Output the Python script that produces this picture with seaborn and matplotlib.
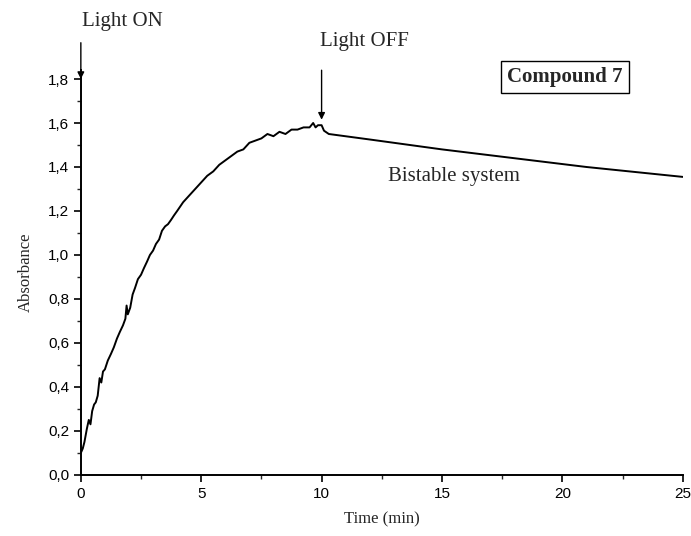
import numpy as np
import pandas as pd
import matplotlib
matplotlib.use("Agg")
import matplotlib.pyplot as plt
from matplotlib.ticker import MultipleLocator
import seaborn as sns

# irradiation phase (light on)
time_on = [0.0, 0.08, 0.15, 0.25, 0.33, 0.4, 0.47, 0.55, 0.62, 0.7, 0.78, 0.85, 0.92,
           1.0, 1.12, 1.25, 1.37, 1.5, 1.62, 1.75, 1.85, 1.9, 1.95, 2.05, 2.15, 2.25,
           2.37, 2.5, 2.62, 2.75, 2.87, 3.0, 3.12, 3.25, 3.37, 3.5, 3.62, 3.75, 3.87,
           4.0, 4.25, 4.5, 4.75, 5.0, 5.25, 5.5, 5.75, 6.0, 6.25, 6.5, 6.75, 7.0,
           7.25, 7.5, 7.75, 8.0, 8.25, 8.5, 8.75, 9.0, 9.25, 9.5, 9.65, 9.75, 9.85, 10.0]
abs_on = [0.10, 0.12, 0.15, 0.21, 0.25, 0.23, 0.29, 0.32, 0.33, 0.36, 0.44, 0.42, 0.47,
          0.48, 0.52, 0.55, 0.58, 0.62, 0.65, 0.68, 0.71, 0.77, 0.73, 0.76, 0.82, 0.85,
          0.89, 0.91, 0.94, 0.97, 1.00, 1.02, 1.05, 1.07, 1.11, 1.13, 1.14, 1.16, 1.18,
          1.20, 1.24, 1.27, 1.30, 1.33, 1.36, 1.38, 1.41, 1.43, 1.45, 1.47, 1.48, 1.51,
          1.52, 1.53, 1.55, 1.54, 1.56, 1.55, 1.57, 1.57, 1.58, 1.58, 1.60, 1.58, 1.59, 1.59]

# thermal relaxation phase (light off)
time_off = [10.0, 10.1, 10.3, 12.0, 15.0, 18.0, 21.0, 25.0]
abs_off = [1.59, 1.565, 1.55, 1.525, 1.48, 1.44, 1.40, 1.355]

x_ticks = [0, 5, 10, 15, 20, 25]
y_ticks = [0.0, 0.2, 0.4, 0.6, 0.8, 1.0, 1.2, 1.4, 1.6, 1.8]
y_tick_labels = ["0,0", "0,2", "0,4", "0,6", "0,8", "1,0", "1,2", "1,4", "1,6", "1,8"]

df = pd.DataFrame({"time": time_on + time_off[1:], "absorbance": abs_on + abs_off[1:]})

sns.set_theme(style="ticks")
plt.rcParams["font.family"] = ["Liberation Sans", "DejaVu Sans"]
serif = ["Liberation Serif", "DejaVu Serif"]

fig = plt.figure(figsize=(6.91, 5.36), dpi=100)
ax = fig.add_axes([0.117, 0.114, 0.871, 0.755])

sns.lineplot(data=df, x="time", y="absorbance", ax=ax, color="black", linewidth=1.4)

ax.set_xlim(0, 25)
ax.set_ylim(0, 1.84)
ax.set_xticks(x_ticks)
ax.set_xticklabels([str(t) for t in x_ticks])
ax.set_yticks(y_ticks)
ax.set_yticklabels(y_tick_labels)
ax.xaxis.set_minor_locator(MultipleLocator(2.5))
ax.yaxis.set_minor_locator(MultipleLocator(0.1))
ax.tick_params(which="major", direction="out", length=5, width=1.2, labelsize=11, colors="black")
ax.tick_params(which="minor", direction="out", length=3, width=1.0)
sns.despine(ax=ax)
for s in ["left", "bottom"]:
    ax.spines[s].set_linewidth(1.4)
    ax.spines[s].set_color("black")

ax.set_xlabel("Time (min)", fontsize=12, family=serif, labelpad=8)
ax.set_ylabel("Absorbance", fontsize=12, family=serif, labelpad=10)

arrow = dict(arrowstyle="-|>", color="black", lw=1.0, mutation_scale=10, shrinkA=0, shrinkB=0)
ax.annotate("", xy=(0, 1.80), xytext=(0, 1.965), arrowprops=arrow, annotation_clip=False)
ax.text(0.04, 2.06, "Light ON", fontsize=15, family=serif, ha="left", va="center", clip_on=False)
ax.annotate("", xy=(10, 1.615), xytext=(10, 1.84), arrowprops=arrow, annotation_clip=False)
ax.text(9.93, 1.97, "Light OFF", fontsize=15, family=serif, ha="left", va="center", clip_on=False)
ax.text(15.5, 1.357, "Bistable system", fontsize=15, family=serif, ha="center", va="center")
ax.text(20.1, 1.81, "Compound 7", fontsize=15, family=serif, weight="bold", ha="center", va="center",
        bbox=dict(boxstyle="square,pad=0.3", facecolor="white", edgecolor="black", linewidth=1.0))

fig.savefig("out.png", dpi=100)
